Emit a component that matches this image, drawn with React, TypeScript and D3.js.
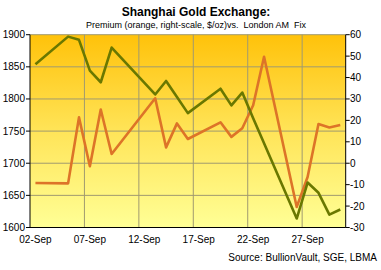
import React from "react";
import * as d3 from "d3";

const days = [2, 5, 6, 7, 8, 9, 13, 14, 15, 16, 19, 20, 21, 22, 23, 26, 27, 28, 29, 30];
const goldFix = [1854, 1897, 1892, 1844, 1826, 1880, 1807, 1828, 1803, 1778, 1816, 1790, 1810, 1770, 1731, 1614, 1670, 1654, 1620, 1628];
const premium = [-9.2, -9.4, 21.4, -1.4, 25.1, 4.3, 30.3, 7.4, 18.6, 11.3, 19.1, 12.3, 16.3, 27.1, 49.7, -20.4, -6.4, 18.3, 16.7, 17.8];
const labelDays = [2, 7, 12, 17, 22, 27];
const leftTicks = [1600, 1650, 1700, 1750, 1800, 1850, 1900];
const rightTicks = [-30, -20, -10, 0, 10, 20, 30, 40, 50, 60];

const W = 381, H = 270;
const L = 30, R = 345.7, T = 34.7, B = 227.5;

export default function App() {
  const x = d3.scaleLinear().domain([1.5, 30.5]).range([L, R]);
  const yL = d3.scaleLinear().domain([1600, 1900]).range([B, T]);
  const yR = d3.scaleLinear().domain([-30, 60]).range([B, T]);
  const lineG = d3.line<number>().x((_, i) => x(days[i])).y((v) => yL(v));
  const lineO = d3.line<number>().x((_, i) => x(days[i])).y((v) => yR(v));
  const font = "'Liberation Sans', Arial, sans-serif";
  const fmt = (d: number) => (d < 10 ? "0" + d : "" + d) + "-Sep";
  return (
    <svg width={W} height={H} style={{ position: "absolute", left: 0, top: 0, background: "#fff" }} fontFamily={font}>
      <defs>
        <linearGradient id="bg" x1="0" y1="0" x2="0" y2="1">
          <stop offset="0" stopColor="#FFC20A" />
          <stop offset="0.5" stopColor="#FFE458" />
          <stop offset="1" stopColor="#FFFF96" />
        </linearGradient>
      </defs>
      <rect x={L} y={T} width={R - L} height={B - T} fill="url(#bg)" />
      {leftTicks.map((t) => (
        <line key={"g" + t} x1={L} x2={R} y1={yL(t)} y2={yL(t)} stroke="#A09A70" strokeWidth={1} />
      ))}
      {labelDays.slice(1).map((d) => (
        <line key={"v" + d} x1={x(d - 0.5)} x2={x(d - 0.5)} y1={T} y2={B} stroke="#A09A70" strokeWidth={1} />
      ))}
      <path d={lineO(premium) || ""} fill="none" stroke="#DD7428" strokeWidth={2.6} strokeLinejoin="round" />
      <path d={lineG(goldFix) || ""} fill="none" stroke="#6A7800" strokeWidth={2.6} strokeLinejoin="round" />
      <line x1={L} x2={L} y1={T} y2={B} stroke="#000" strokeWidth={1} />
      <line x1={L} x2={R} y1={B} y2={B} stroke="#000" strokeWidth={1} />
      <line x1={R} x2={R} y1={T} y2={B} stroke="#000" strokeWidth={1} />
      {leftTicks.map((t) => (
        <g key={"lt" + t}>
          <line x1={L - 4} x2={L} y1={yL(t)} y2={yL(t)} stroke="#000" />
          <text x={25} y={yL(t) + 3.5} fontSize={10} textAnchor="end" fill="#000">{t}</text>
        </g>
      ))}
      {rightTicks.map((t) => (
        <g key={"rt" + t}>
          <line x1={R} x2={R + 4} y1={yR(t)} y2={yR(t)} stroke="#000" />
          <text x={350} y={yR(t) + 3.5} fontSize={10} textAnchor="start" fill="#000">{t}</text>
        </g>
      ))}
      {labelDays.map((d) => (
        <text key={"x" + d} x={x(d)} y={242.5} fontSize={10} textAnchor="middle" fill="#000">{fmt(d)}</text>
      ))}
      <text x={196} y={16} fontSize={12} fontWeight="bold" textAnchor="middle" fill="#000">Shanghai Gold Exchange:</text>
      <text x={196} y={27.5} fontSize={9} textAnchor="middle" fill="#000" style={{ whiteSpace: "pre" }}>{"Premium (orange, right-scale, $/oz)vs.  London AM  Fix"}</text>
      <text x={377} y={261} fontSize={10} textAnchor="end" fill="#000">Source: BullionVault, SGE, LBMA</text>
    </svg>
  );
}
